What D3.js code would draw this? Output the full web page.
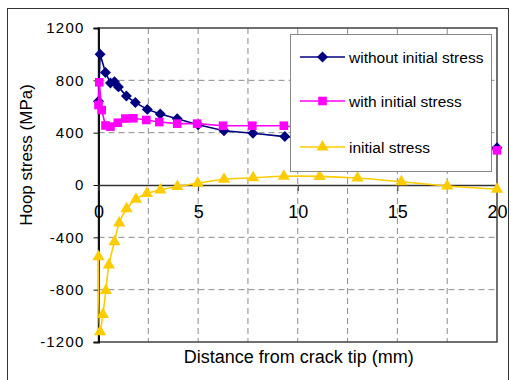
<!DOCTYPE html>
<html>
<head>
<meta charset="utf-8">
<script src="https://cdn.jsdelivr.net/npm/d3@7"></script>
<style>
  body { margin: 0; background: #fff; }
  svg { display: block; font-family: "Liberation Sans", Arial, sans-serif; }
</style>
</head>
<body>
<script>
// distance from crack tip (mm) and hoop stress (MPa) per series
var noInitX = [0, 0.08, 0.35, 0.6, 0.8, 1.0, 1.4, 1.85, 2.45, 3.1, 3.95, 5.0, 6.3, 7.75, 9.35, 20];
var noInitY = [640, 1000, 860, 780, 790, 750, 680, 630, 578, 542, 507, 460, 415, 395, 370, 285];

var withInitX = [0, 0.04, 0.16, 0.35, 0.6, 0.97, 1.35, 1.75, 2.4, 3.05, 3.95, 4.95, 6.25, 7.72, 9.3, 20];
var withInitY = [611, 785, 573, 455, 446, 476, 508, 510, 497, 481, 469, 469, 453, 453, 453, 265];

var initX = [0, 0.08, 0.22, 0.37, 0.52, 0.8, 1.04, 1.41, 1.88, 2.43, 3.1, 3.96, 4.98, 6.3, 7.76, 9.3, 11.1, 13.0, 15.2, 17.5, 20];
var initY = [-548, -1121, -990, -806, -611, -433, -290, -182, -109, -64, -38, -12, 13, 44, 55, 67, 66, 53, 25, -8, -32];

var seriesNames = ['without initial stress', 'with initial stress', 'initial stress'];
var xTicks = [0, 5, 10, 15, 20];
var yTicks = [-1200, -800, -400, 0, 400, 800, 1200];
var xGrid = [2.5, 5, 7.5, 10, 12.5, 15, 17.5];
var yGrid = [-800, -400, 400, 800];

var navy = '#000080', magenta = '#ff00ff', gold = '#ffcc00';

var w = 511, h = 380;
var pLeft = 98.5, pRight = 497, pTop = 28, pBottom = 342;

var svg = d3.select('body').append('svg')
    .attr('width', w)
    .attr('height', h);

// outer chart border
svg.append('rect')
    .attr('x', 7.5).attr('y', 8.5)
    .attr('width', 501).attr('height', 380)
    .attr('fill', '#fff')
    .attr('stroke', '#333')
    .attr('stroke-width', 1);

var x = d3.scaleLinear().domain([0, 20]).range([pLeft, pRight]);
var y = d3.scaleLinear().domain([-1200, 1200]).range([pBottom, pTop]);

// gridlines
svg.append('g').selectAll('line').data(xGrid).join('line')
    .attr('x1', d => x(d)).attr('x2', d => x(d))
    .attr('y1', pTop).attr('y2', pBottom)
    .attr('stroke', '#8c8c8c')
    .attr('stroke-dasharray', '6,4');
svg.append('g').selectAll('line').data(yGrid).join('line')
    .attr('x1', pLeft).attr('x2', pRight)
    .attr('y1', d => y(d)).attr('y2', d => y(d))
    .attr('stroke', '#8c8c8c')
    .attr('stroke-dasharray', '6,4');

// plot frame
svg.append('rect')
    .attr('x', pLeft).attr('y', pTop)
    .attr('width', pRight - pLeft).attr('height', pBottom - pTop)
    .attr('fill', 'none')
    .attr('stroke', '#404040')
    .attr('stroke-width', 1.5);

// y axis (plain hyphen for negatives, like the original)
var yAxis = svg.append('g')
    .attr('transform', 'translate(' + pLeft + ',0)')
    .call(d3.axisLeft(y).tickValues(yTicks).tickSize(5).tickPadding(9).tickFormat(d => String(d)));
yAxis.select('.domain').attr('stroke', '#111').attr('stroke-width', 2);
yAxis.selectAll('.tick line').attr('stroke', '#111');
yAxis.selectAll('text')
    .attr('font-size', 15)
    .attr('font-family', '"Liberation Sans", Arial, sans-serif')
    .attr('letter-spacing', 1.2)
    .attr('fill', '#000');

// x axis along zero
var xAxis = svg.append('g')
    .attr('transform', 'translate(0,' + y(0) + ')')
    .call(d3.axisBottom(x).tickValues(xTicks).tickSize(6).tickPadding(14).tickFormat(d => String(d)));
xAxis.select('.domain').attr('stroke', '#333').attr('stroke-width', 1.5);
xAxis.selectAll('.tick line').attr('stroke', '#333');
xAxis.selectAll('text')
    .attr('font-size', 18)
    .attr('font-family', '"Liberation Sans", Arial, sans-serif')
    .attr('fill', '#000');

// axis titles
svg.append('text')
    .attr('x', (pLeft + pRight) / 2 + 1)
    .attr('y', 363)
    .attr('text-anchor', 'middle')
    .attr('font-size', 18)
    .text('Distance from crack tip (mm)');
svg.append('text')
    .attr('transform', 'translate(32,155) rotate(-90)')
    .attr('text-anchor', 'middle')
    .attr('font-size', 17)
    .text('Hoop stress (MPa)');

var series = [
    { name: seriesNames[0], xs: noInitX, ys: noInitY, color: navy, shape: 'diamond', curve: d3.curveLinear },
    { name: seriesNames[1], xs: withInitX, ys: withInitY, color: magenta, shape: 'square', curve: d3.curveLinear },
    { name: seriesNames[2], xs: initX, ys: initY, color: gold, shape: 'triangle', curve: d3.curveCatmullRom.alpha(0.5) }
];

var marker = function(shape) {
    if (shape === 'diamond') return d3.symbol().type(d3.symbolSquare).size(60)();
    if (shape === 'square') return d3.symbol().type(d3.symbolSquare).size(74)();
    return d3.symbol().type(d3.symbolTriangle).size(64)();
};
var rot = function(shape) { return shape === 'diamond' ? ' rotate(45)' : ''; };

series.forEach(function(s) {
    var pts = s.xs.map(function(v, i) { return [v, s.ys[i]]; });
    var line = d3.line().x(d => x(d[0])).y(d => y(d[1])).curve(s.curve);
    svg.append('path')
        .attr('d', line(pts))
        .attr('fill', 'none')
        .attr('stroke', s.color)
        .attr('stroke-width', 1.6);
    svg.append('g').selectAll('path').data(pts).join('path')
        .attr('d', marker(s.shape))
        .attr('transform', d => 'translate(' + x(d[0]) + ',' + y(d[1]) + ')' + rot(s.shape))
        .attr('fill', s.color);
});

// legend
var lg = svg.append('g');
lg.append('rect')
    .attr('x', 290.5).attr('y', 34.5)
    .attr('width', 201).attr('height', 137)
    .attr('fill', '#fff')
    .attr('stroke', '#888');
var rowY = [57, 101, 147];
series.forEach(function(s, i) {
    lg.append('line')
        .attr('x1', 300).attr('x2', 345)
        .attr('y1', rowY[i]).attr('y2', rowY[i])
        .attr('stroke', s.color).attr('stroke-width', 1.6);
    lg.append('path')
        .attr('d', marker(s.shape))
        .attr('transform', 'translate(322.5,' + rowY[i] + ')' + rot(s.shape))
        .attr('fill', s.color);
    lg.append('text')
        .attr('x', 349)
        .attr('y', rowY[i] + 5.5)
        .attr('font-size', 15.5)
        .text(s.name);
});
</script>
</body>
</html>
